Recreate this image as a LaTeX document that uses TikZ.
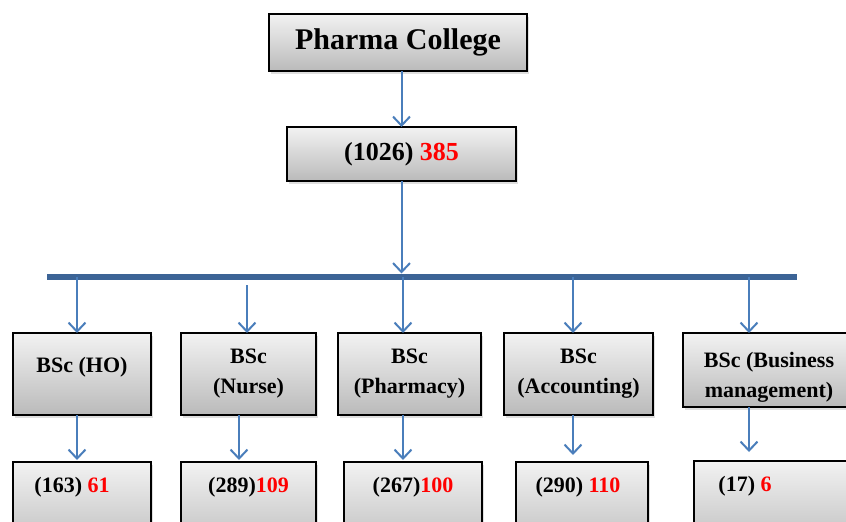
\documentclass[tikz,border=0pt]{standalone}
\usepackage{fontspec}
\setmainfont{Liberation Serif}
\usetikzlibrary{arrows.meta, positioning, shadows}
\definecolor{arrowc}{HTML}{4A7EBB}
\definecolor{barc}{HTML}{3C6496}
\definecolor{tallyc}{HTML}{FF0000}
\newcommand{\tally}[1]{\textcolor{tallyc}{#1}}

\begin{document}
\begin{tikzpicture}[x=1pt, y=-1pt,
  box/.style={draw=black, line width=1.6pt, top color=black!5, bottom color=black!27,
    drop shadow={opacity=0.25, shadow xshift=2pt, shadow yshift=-3pt},
    align=center, inner sep=0pt, outer sep=0pt, font=\fontsize{22}{30}\selectfont\bfseries},
  cnt/.style={box, inner ysep=14pt, text height=16pt, text depth=50pt},
  arr/.style={-{Straight Barb[length=9pt, width=17pt]}, line width=2pt, arrowc},
  bar/.style={line width=6pt, barc}
]
\useasboundingbox (0,0) rectangle (846,522);
\clip (0,0) rectangle (846,522);

% college and total
\node[box, minimum width=258pt, minimum height=57pt, font=\fontsize{30}{36}\selectfont\bfseries] (college) at (398,42.5) {Pharma College};
\node[box, minimum width=229pt, minimum height=54pt, font=\fontsize{26}{30}\selectfont\bfseries, below=56pt of college, xshift=3.5pt] (total) {(1026) \tally{385}};

% branch bar
\coordinate (barL) at (47,276.5);
\coordinate (barR) at (797,276.5);
\coordinate (t1) at (77,276.5);
\coordinate (t2) at (247,276.5);
\coordinate (t3) at (403,276.5);
\coordinate (t4) at (573,276.5);
\coordinate (t5) at (749,276.5);
\draw[bar] (barL) -- (barR);

% programmes
\node[box, minimum width=138pt, minimum height=82pt, text depth=19pt] (ho) at (82,374) {BSc (HO)};
\node[box, minimum width=135pt, minimum height=82pt, right=30pt of ho] (nurse) {BSc\\(Nurse)};
\node[box, minimum width=143pt, minimum height=82pt, right=22pt of nurse] (pharm) {BSc\\(Pharmacy)};
\node[box, minimum width=149pt, minimum height=82pt, right=23pt of pharm] (acc) {BSc\\(Accounting)};
\node[box, minimum width=172pt, minimum height=74pt, text height=59pt, right=30pt of acc.north east, anchor=north west] (bus) {BSc (Business\\management)};

% counts
\node[cnt, minimum width=138pt, below=47pt of ho] (c1) {(163) \tally{61}\hspace*{20pt}};
\node[cnt, minimum width=135pt, below=47pt of nurse] (c2) {(289)\tally{109}};
\node[cnt, minimum width=138pt, below=47pt of pharm, xshift=3.5pt] (c3) {(267)\tally{100}};
\node[cnt, minimum width=132pt, below=47pt of acc, xshift=3.5pt] (c4) {(290) \tally{110}\hspace*{8pt}};
\node[cnt, minimum width=156pt, below=54pt of bus, xshift=3pt] (c5) {(17) \tally{6}\hspace*{54pt}};

\draw[arr] (college.south -| total.north) -- (total.north);
\draw[arr, shorten >=3pt] (total.south) -- (total.south |- barL);

\draw[arr] (t1) -- (t1 |- ho.north);
\draw[arr] ([yshift=-8.5pt]t2) -- (t2 |- nurse.north);
\draw[arr] (t3) -- (t3 |- pharm.north);
\draw[arr] (t4) -- (t4 |- acc.north);
\draw[arr] (t5) -- (t5 |- bus.north);

\draw[arr, shorten >=2pt] (ho.south -| t1) -- (c1.north -| t1);
\draw[arr, shorten >=2pt] ([xshift=-9.5pt]nurse.south) -- ([xshift=-9.5pt]nurse.south |- c2.north);
\draw[arr, shorten >=2pt] (pharm.south -| t3) -- (c3.north -| t3);
\draw[arr, shorten >=7pt] (acc.south -| t4) -- (c4.north -| t4);
\draw[arr, shorten >=9pt] (bus.south -| t5) -- (c5.north -| t5);
\end{tikzpicture}
\end{document}
